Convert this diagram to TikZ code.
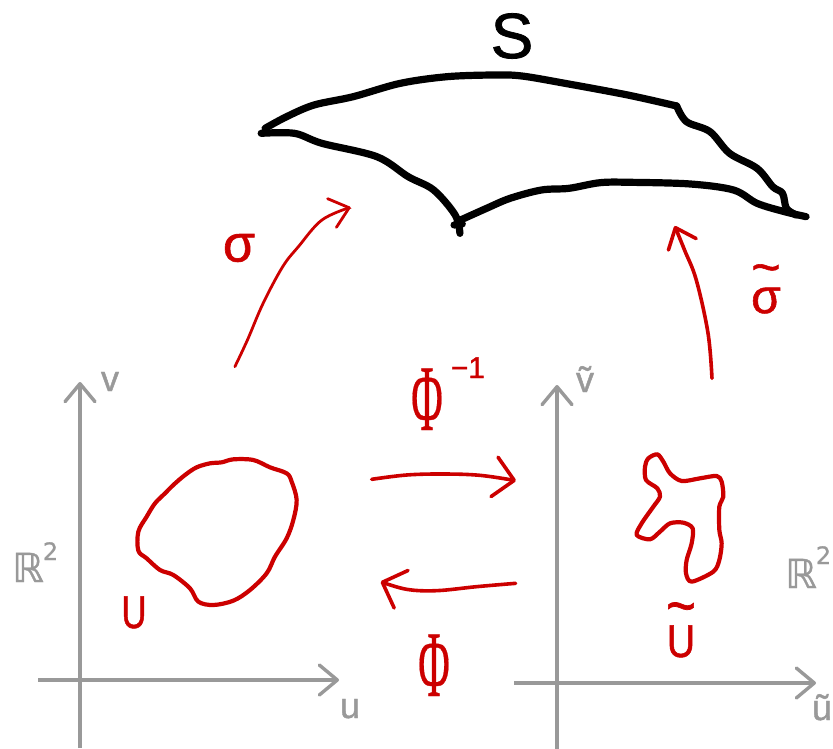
\documentclass[tikz,border=0pt]{standalone}
\usepackage{fontspec}
\setmainfont[FakeBold=1.2]{Liberation Sans}
\newfontfamily\phifont[FakeBold=0.4]{Liberation Serif}
\newfontfamily\symfont[FakeBold=1]{DejaVu Sans}
\usetikzlibrary{arrows.meta}
\definecolor{penred}{HTML}{CC0000}
\definecolor{pengray}{HTML}{999999}
\tikzset{
  axisline/.style={pengray,line width=3.4pt,-{Straight Barb[length=18pt,width=30pt,round]}},
  blob/.style={penred,line width=4.2pt,line join=round},
  surf/.style={black,line width=7.2pt,line cap=round,line join=round},
  maparrow/.style={penred,line width=3.6pt,line cap=round,-{Straight Barb[length=20pt,width=40pt,round]}},
  uparrow/.style={penred,line cap=round,-{Straight Barb[length=18pt,width=30pt,round]}},
  redlabel/.style={penred,inner sep=0pt},
  graylabel/.style={pengray,inner sep=0pt},
  zA/.style={shift={(0,360)},scale=1/3},
  zB/.style={shift={(370,340)},scale=1/3},
  zC/.style={shift={(220,0)},xscale=0.392,yscale=1/3},
}
\newcommand{\bigphi}{\scalebox{.46}[1]{\fontsize{94}{94}\phifont Φ}}
\newcommand{\overtilde}[3]{\leavevmode\setbox0\hbox{#1}\hbox to \wd0{\hss\raisebox{#3}[0pt][0pt]{\fontsize{#2}{#2}\selectfont\char"7E}\hss}\kern-\wd0\box0}
\newcommand{\planelabel}[1]{\fontsize{40}{40}\symfont ℝ\kern-1pt\raisebox{#1}{\fontsize{24}{24}\symfont 2}}
\begin{document}
\begin{tikzpicture}[x=1pt,y=-1pt]
\useasboundingbox (0,0) rectangle (833,749);
% left axes
\coordinate (vlow) at (80,748); \coordinate (vtop) at (80,382);
\coordinate (ulow) at (38,680); \coordinate (utop) at (339,680);
\draw[axisline] (vlow) -- (vtop);
\draw[axisline] (ulow) -- (utop);
% right axes
\coordinate (twlow) at (557,749); \coordinate (twtop) at (557,385);
\coordinate (tulow) at (514,683); \coordinate (tutop) at (816,683);
\draw[axisline] (twlow) -- (twtop);
\draw[axisline] (tulow) -- (tutop);
% U
\begin{scope}[zA]
\draw[blob] plot[smooth cycle,tension=.55] coordinates {(415,515)(440,470)(465,430)(495,400)(520,375)(555,345)(590,322)(630,310)(665,307)(700,298)(760,300)(810,322)(860,340)(875,365)(890,420)(880,480)(860,535)(825,590)(800,640)(750,690)(700,722)(640,735)(595,725)(570,685)(520,645)(480,630)(440,595)(415,572)};
\end{scope}
% U tilde
\begin{scope}[zB]
\draw[blob] plot[smooth cycle,tension=.5] coordinates {(828,420)(825,380)(835,355)(862,343)(880,365)(900,400)(935,423)(990,415)(1040,408)(1055,425)(1060,470)(1048,500)(1048,570)(1055,610)(1048,660)(1030,695)(965,725)(948,700)(950,660)(965,610)(968,565)(940,548)(900,550)(870,575)(840,598)(800,585)(815,550)(850,500)(870,470)(862,445)};
\coordinate (phiA) at (5,418); \coordinate (phiB) at (438,422);
\coordinate (invA) at (437,730); \coordinate (invB) at (32,725);
\draw[maparrow] plot[smooth,tension=.6] coordinates {(phiA)(110,405)(220,402)(330,406)(phiB)};
\draw[maparrow] plot[smooth,tension=.6] coordinates {(invA)(320,740)(200,752)(110,748)(invB)};
\end{scope}
% surface S
\begin{scope}[zC]
\coordinate (sA) at (115,385); \coordinate (sB) at (1165,318); \coordinate (sC) at (1495,650); \coordinate (sD) at (610,662); \coordinate (sE) at (105,400); \coordinate (sF) at (612,700);
\coordinate (sG) at (597,675); \coordinate (sH) at (618,672);
\draw[surf] plot[smooth,tension=.55] coordinates {(sA)(170,350)(240,315)(340,290)(460,250)(580,230)(700,225)(770,228)(880,250)(1040,285)(sB)};
\draw[surf] plot[smooth,tension=.55] coordinates {(sB)(1190,365)(1250,395)(1300,460)(1370,505)(1410,560)(1435,580)(1445,625)(1470,645)};
\draw[surf] plot[smooth,tension=.55] coordinates {(sC)(1440,635)(1370,610)(1310,570)(1200,552)(1050,547)(970,548)(890,565)(820,570)(740,595)(680,625)(sD)};
\draw[surf] plot[smooth,tension=.55] coordinates {(sE)(190,400)(260,430)(400,470)(480,530)(545,570)(600,645)(sF)};
\draw[surf] (sG) -- (sH);
% maps to the surface
\coordinate (sigA) at (38,1100); \coordinate (sigB) at (333,622);
\coordinate (tsigA) at (1255,1135); \coordinate (tsigB) at (1160,678);
\draw[uparrow,line width=2.8pt] plot[smooth,tension=.6] coordinates {(sigA)(70,1020)(110,910)(160,800)(200,740)(260,660)(sigB)};
\draw[uparrow,line width=3.6pt] plot[smooth,tension=.6] coordinates {(tsigA)(1245,1000)(1215,840)(1185,750)(tsigB)};
\end{scope}
% labels
\node[inner sep=0pt,font=\fontsize{64}{64}\selectfont] (S) at (512,36) {S};
\node[redlabel,font=\fontsize{52}{52}\selectfont] (sig) at (239,248) {σ};
\node[redlabel,font=\fontsize{48}{48}\selectfont,anchor=base] (tsig) at (766,313) {\overtilde{σ}{50}{29pt}};
\node[redlabel,anchor=base west] (phiinv) at (411,430) {\bigphi\kern8pt\raisebox{52pt}{\fontsize{30}{30}\selectfont −1}};
\node[redlabel,anchor=base] (phi) at (434,696) {\bigphi};
\node[redlabel,anchor=base] (U) at (134,628) {\scalebox{.75}[1]{\fontsize{46}{46}\selectfont U}};
\node[redlabel,anchor=base] (tU) at (681,657) {\scalebox{.85}[1]{\fontsize{46}{46}\selectfont\overtilde{U}{60}{31pt}}};
\node[graylabel,anchor=base west] (R1) at (12,582) {\planelabel{22pt}};
\node[graylabel,anchor=base west] (R2) at (785,588) {\planelabel{24pt}};
\node[graylabel,font=\fontsize{36}{36}\selectfont,anchor=base] (lv) at (110,391) {v};
\node[graylabel,font=\fontsize{36}{36}\selectfont,anchor=base] (ltv) at (585,392) {ṽ};
\node[graylabel,font=\fontsize{36}{36}\selectfont,anchor=base] (lu) at (350,718) {u};
\node[graylabel,font=\fontsize{36}{36}\selectfont,anchor=base] (ltu) at (822,720) {ũ};
\end{tikzpicture}
\end{document}
